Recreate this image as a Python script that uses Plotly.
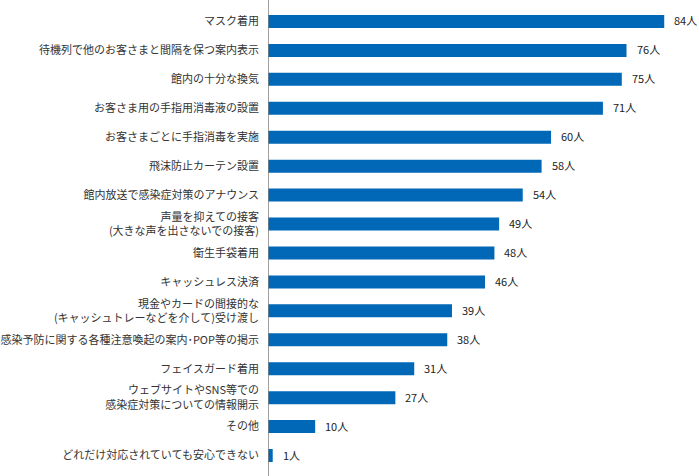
import plotly.graph_objects as go

categories = [
    "マスク着用",
    "待機列で他のお客さまと間隔を保つ案内表示",
    "館内の十分な換気",
    "お客さま用の手指用消毒液の設置",
    "お客さまごとに手指消毒を実施",
    "飛沫防止カーテン設置",
    "館内放送で感染症対策のアナウンス",
    "声量を抑えての接客<br>(大きな声を出さないでの接客)",
    "衛生手袋着用",
    "キャッシュレス決済",
    "現金やカードの間接的な<br>(キャッシュトレーなどを介して)受け渡し",
    "感染予防に関する各種注意喚起の案内･POP等の掲示",
    "フェイスガード着用",
    "ウェブサイトやSNS等での<br>感染症対策についての情報開示",
    "その他",
    "どれだけ対応されていても安心できない",
]
values = [84, 76, 75, 71, 60, 58, 54, 49, 48, 46, 39, 38, 31, 27, 10, 1]
unit = "人"

W, H = 699, 476
left, top, bottom = 265, 6.5, 6
fig = go.Figure(go.Bar(
    y=categories, x=values, orientation="h",
    marker=dict(color="#0068B7", line=dict(width=0)),
    hoverinfo="none",
))

for c, v in zip(categories, values):
    fig.add_annotation(x=v, y=c, text=f"{v}{unit}", showarrow=False,
                       xanchor="left", xshift=8, yshift=1,
                       font=dict(size=11, color="#222"))

fig.add_shape(type="line", xref="x", yref="paper", x0=0, x1=0, y0=-0.02, y1=1.02,
              line=dict(color="#808080", width=1.5))

fig.update_layout(
    width=W, height=H,
    margin=dict(l=left, r=0, t=top, b=bottom),
    paper_bgcolor="white", plot_bgcolor="white",
    font=dict(family="Noto Sans CJK JP", size=11, color="#333"),
    bargap=0.55,
    showlegend=False,
    hovermode=False,
    xaxis=dict(range=[0, (W - left) / 4.75], visible=False, fixedrange=True),
    yaxis=dict(autorange="reversed", showline=False, ticks="", ticklabelstandoff=8,
               showgrid=False, fixedrange=True, tickfont=dict(size=11, color="#333")),
)

fig.write_html("out.html",
               config={"displayModeBar": False, "staticPlot": True},
               post_script="document.body.style.margin='0';document.body.style.overflow='hidden';")
